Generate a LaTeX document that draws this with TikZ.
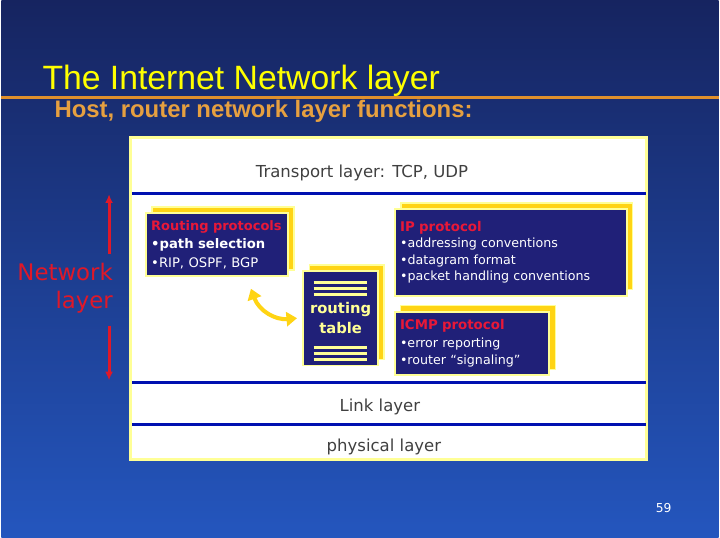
\documentclass[tikz,border=0pt]{standalone}
\usepackage{fontspec}
\setmainfont{DejaVu Sans}
\newfontfamily\arialfont{Liberation Sans}
\usetikzlibrary{shadows,arrows.meta}
\definecolor{slidetop}{RGB}{22,36,96}
\definecolor{slidebot}{RGB}{36,86,190}
\definecolor{titleyellow}{RGB}{255,255,0}
\definecolor{ruleorange}{RGB}{224,144,44}
\definecolor{subtorange}{RGB}{230,160,64}
\definecolor{boxnavy}{RGB}{32,32,120}
\definecolor{boxrim}{RGB}{255,255,150}
\definecolor{shadowgold}{RGB}{255,212,20}
\definecolor{layerblue}{RGB}{0,16,176}
\definecolor{layergray}{RGB}{64,64,64}
\definecolor{protored}{RGB}{232,24,56}
\definecolor{netred}{RGB}{224,24,40}
\begin{document}
\begin{tikzpicture}[x=0.567pt,y=-0.567pt,
  protobox/.style={draw=boxrim,line width=1.1pt,fill=boxnavy,text=white,align=left,
    inner xsep=3pt,inner ysep=0pt,
    general shadow={shadow xshift=3.4pt,shadow yshift=3.4pt,fill=shadowgold,draw=boxrim,line width=0.8pt}},
  layertext/.style={text=layergray,font=\fontsize{9.4}{11}\selectfont},
  netarrow/.style={netred,line width=1.7pt,-{Latex[length=5pt,width=4.5pt]}},
  swaparrow/.style={shadowgold,line width=2.3pt,{Triangle[length=6pt,width=8pt]}-{Triangle[length=6pt,width=8pt]}}]

% slide background and heading
\shade[top color=slidetop,bottom color=slidebot] (0,0) rectangle (720,540);
\node[anchor=base west,text=titleyellow,font=\arialfont\fontsize{19.2}{22}\selectfont] (title) at (35,90) {The Internet Network layer};
\draw[ruleorange,line width=1.7pt] (0,98) -- (720,98);
\node[anchor=base west,text=subtorange,font=\arialfont\bfseries\fontsize{13.6}{16}\selectfont] (subtitle) at (47,118) {Host, router network layer functions:};

% the layer panel
\draw[draw=boxrim,line width=1.7pt,fill=white] (130,138) rectangle (648,461);
\foreach \y in {194,384,426}
{
    \draw[layerblue,line width=1.7pt] (131,\y) -- (647,\y);
}
\node[layertext] (transport) at (362,174) {Transport layer: TCP, UDP};
\node[layertext] (link) at (380,409) {Link layer};
\node[layertext] (phys) at (384,449) {physical layer};

% network layer boxes
\node[protobox,text width=75pt,minimum height=35.7pt,font=\fontsize{7.5}{10.5}\selectfont] (rp) at (216.5,245.5)
  {\hyphenpenalty=10000{\color{protored}\bfseries\fontsize{7.4}{10.5}\selectfont Routing protocols}\\
   {\bfseries\fontsize{7.5}{10.5}\selectfont •path selection}\\
   •RIP, OSPF, BGP};
\node[protobox,text width=126pt,minimum height=49.3pt,font=\fontsize{7.2}{9.4}\selectfont] (ip) at (511.5,253.5)
  {{\color{protored}\bfseries\fontsize{7.6}{9.4}\selectfont IP protocol}\\
   •addressing conventions\\
   •datagram format\\
   •packet handling conventions};
\node[protobox,text width=82pt,minimum height=36.3pt,font=\fontsize{7.2}{10}\selectfont] (icmp) at (472.5,345)
  {{\color{protored}\bfseries\fontsize{7.6}{10}\selectfont ICMP protocol}\\
   •error reporting\\
   •router “signaling”};
\node[protobox,align=center,inner xsep=0pt,minimum width=42.5pt,minimum height=53.9pt,text=boxrim,
  font=\bfseries\fontsize{8.4}{11.5}\selectfont] (rt) at (340.5,319.5) {routing\\table};
\foreach \d in {13,19,25}
{
    \draw[boxrim,line width=1.6pt] ([shift={(-27,\d)}]rt.north) -- ([shift={(27,\d)}]rt.north);
    \draw[boxrim,line width=1.6pt] ([shift={(-27,-\d+6)}]rt.south) -- ([shift={(27,-\d+6)}]rt.south);
}
\draw[swaparrow] ([shift={(34,12)}]rp.south) .. controls +(8,22) and +(-22,2) .. ([xshift=-3pt]rt.west);

% network layer marker
\node[anchor=east,align=right,text=netred,font=\fontsize{13}{16}\selectfont] (netlayer) at (118,289) {Network\\layer};
\coordinate (nettop) at (108,195);
\coordinate (netupper) at (108,255);
\coordinate (netlower) at (108,327);
\coordinate (netbot) at (108,382);
\draw[netarrow] (netupper) -- (nettop);
\draw[netarrow] (netlower) -- (netbot);

\node[text=white,font=\fontsize{7}{8}\selectfont] (pagenum) at (665,510) {59};
\end{tikzpicture}
\end{document}
